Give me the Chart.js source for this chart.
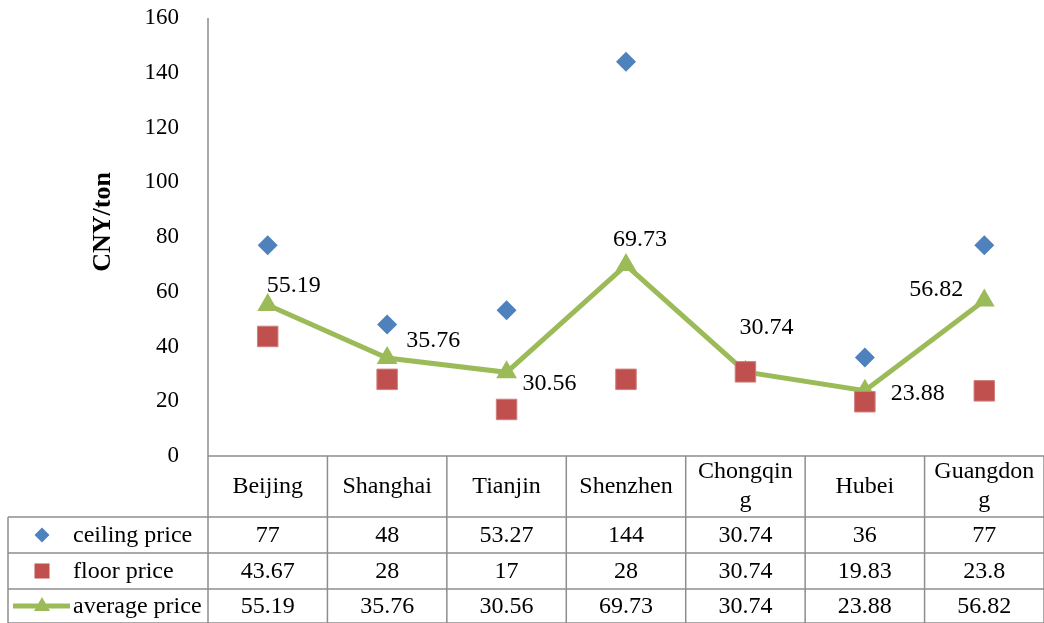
<!DOCTYPE html>
<html>
<head>
<meta charset="utf-8">
<title>Carbon price by pilot</title>
<script src="https://cdn.jsdelivr.net/npm/chart.js@4.4.1/dist/chart.umd.min.js"></script>
<style>
  html, body { margin: 0; padding: 0; background: #fff; }
  #wrap { position: relative; width: 1044px; height: 623px; }
</style>
</head>
<body>
<div id="wrap"><canvas id="priceChart" width="1044" height="623"></canvas></div>
<script>
// pilot markets and their prices (CNY/ton)
const regions = ['Beijing', 'Shanghai', 'Tianjin', 'Shenzhen', 'Chongqing', 'Hubei', 'Guangdong'];
const ceilingPrice = [77, 48, 53.27, 144, 30.74, 36, 77];
const floorPrice = [43.67, 28, 17, 28, 30.74, 19.83, 23.8];
const averagePrice = [55.19, 35.76, 30.56, 69.73, 30.74, 23.88, 56.82];
const yTicks = [0, 20, 40, 60, 80, 100, 120, 140, 160];

const FONT = '"Liberation Serif", "Times New Roman", serif';
const BLUE = '#4f81bd', RED = '#c0504d', GREEN = '#9bbb59', LINE = '#8e8e8e';

// where each average-price label sits relative to its point
const labelOffsets = [[26, -19], [46, -17], [43, 11], [14, -25], [21, -44], [53, 3], [-48, -11]];

const rows = [
  { name: 'ceiling price', values: ceilingPrice, marker: 'diamond' },
  { name: 'floor price', values: floorPrice, marker: 'square' },
  { name: 'average price', values: averagePrice, marker: 'line' }
];

// split a header into lines by character when it is wider than the cell
function wrapText(ctx, text, maxW) {
  const lines = [];
  let cur = '';
  for (const ch of text) {
    if (ctx.measureText(cur + ch).width > maxW && cur) {
      lines.push(cur);
      cur = ch;
    } else {
      cur += ch;
    }
  }
  lines.push(cur);
  return lines;
}

function drawMarker(ctx, type, x, y) {
  ctx.save();
  if (type === 'diamond') {
    ctx.fillStyle = BLUE;
    ctx.beginPath();
    ctx.moveTo(x, y - 7.5); ctx.lineTo(x + 7.5, y); ctx.lineTo(x, y + 7.5); ctx.lineTo(x - 7.5, y);
    ctx.closePath(); ctx.fill();
  } else if (type === 'square') {
    ctx.fillStyle = RED;
    ctx.fillRect(x - 7.5, y - 7.5, 15, 15);
  } else {
    ctx.strokeStyle = GREEN;
    ctx.lineWidth = 5;
    ctx.beginPath(); ctx.moveTo(x - 29, y); ctx.lineTo(x + 28, y); ctx.stroke();
    ctx.fillStyle = GREEN;
    ctx.beginPath();
    ctx.moveTo(x, y - 9); ctx.lineTo(x + 8, y + 5); ctx.lineTo(x - 8, y + 5);
    ctx.closePath(); ctx.fill();
  }
  ctx.restore();
}

// value labels on the average line
const avgLabels = {
  id: 'avgLabels',
  afterDatasetsDraw(chart) {
    const meta = chart.getDatasetMeta(2);
    const ctx = chart.ctx;
    ctx.save();
    ctx.font = '24px ' + FONT;
    ctx.fillStyle = '#000';
    ctx.textAlign = 'center';
    ctx.textBaseline = 'middle';
    meta.data.forEach((pt, i) => {
      const [dx, dy] = labelOffsets[i];
      ctx.fillText(averagePrice[i].toString(), pt.x + dx, pt.y + dy);
    });
    ctx.restore();
  }
};

// data table under the plot plus axis title
const dataTable = {
  id: 'dataTable',
  afterDraw(chart) {
    const ctx = chart.ctx;
    const xs = chart.scales.x;
    const area = chart.chartArea;
    const step = xs.getPixelForValue(1) - xs.getPixelForValue(0);
    const left = area.left, right = area.right;
    const top = area.bottom;
    const headBottom = 517;
    const rowLines = [517, 553, 589, 623];
    const legendLeft = 8;

    ctx.save();
    ctx.strokeStyle = LINE;
    ctx.lineWidth = 1.5;
    ctx.beginPath();
    // y axis line running down through the table
    ctx.moveTo(left, area.top); ctx.lineTo(left, 623);
    // header top line (x axis)
    ctx.moveTo(left, top); ctx.lineTo(right, top);
    // row separators
    rowLines.forEach(y => { ctx.moveTo(legendLeft, y); ctx.lineTo(right, y); });
    ctx.moveTo(legendLeft, headBottom); ctx.lineTo(legendLeft, 623);
    // column separators
    for (let i = 1; i <= regions.length; i++) {
      const x = xs.getPixelForValue(i) - step / 2;
      ctx.moveTo(x, top); ctx.lineTo(x, 623);
    }
    ctx.stroke();

    ctx.fillStyle = '#000';
    ctx.font = '24px ' + FONT;
    ctx.textAlign = 'center';
    ctx.textBaseline = 'middle';
    regions.forEach((name, i) => {
      const cx = xs.getPixelForValue(i);
      const lines = wrapText(ctx, name, step - 16);
      const lh = 29;
      const y0 = (top + headBottom) / 2 - (lines.length - 1) * lh / 2;
      lines.forEach((ln, k) => ctx.fillText(ln, cx, y0 + k * lh));
    });

    rows.forEach((row, r) => {
      const cy = (rowLines[r] + rowLines[r + 1]) / 2 + 1;
      row.values.forEach((v, i) => {
        ctx.fillText(v.toString(), xs.getPixelForValue(i), cy);
      });
      ctx.textAlign = 'left';
      ctx.fillText(row.name, 73, cy);
      ctx.textAlign = 'center';
      drawMarker(ctx, row.marker, 42, cy - 1);
    });

    // axis title
    ctx.fillStyle = '#000';
    ctx.font = 'bold 26px ' + FONT;
    ctx.translate(103, 222);
    ctx.rotate(-Math.PI / 2);
    ctx.fillText('CNY/ton', 0, 0);
    ctx.restore();
  }
};

new Chart(document.getElementById('priceChart'), {
  type: 'line',
  data: {
    labels: regions,
    datasets: [
      {
        label: 'ceiling price',
        data: ceilingPrice,
        showLine: false,
        pointStyle: 'rectRot',
        pointRadius: 10,
        pointBackgroundColor: BLUE,
        pointBorderColor: BLUE,
        pointBorderWidth: 0,
        order: 2
      },
      {
        label: 'floor price',
        data: floorPrice,
        showLine: false,
        pointStyle: 'rect',
        pointRadius: 14.5,
        pointBackgroundColor: RED,
        pointBorderColor: '#d0807e',
        pointBorderWidth: 1,
        order: 1
      },
      {
        label: 'average price',
        data: averagePrice,
        borderColor: GREEN,
        borderWidth: 5,
        pointStyle: 'triangle',
        pointRadius: 12,
        pointBackgroundColor: GREEN,
        pointBorderColor: GREEN,
        pointBorderWidth: 0,
        tension: 0,
        order: 3
      }
    ]
  },
  options: {
    responsive: false,
    animation: false,
    layout: { autoPadding: false, padding: { top: 18, right: 0, bottom: 167, left: 0 } },
    plugins: { legend: { display: false }, tooltip: { enabled: false } },
    scales: {
      x: { display: false, offset: true },
      y: {
        min: 0,
        max: 160,
        afterBuildTicks(scale) { scale.ticks = yTicks.map(v => ({ value: v })); },
        afterFit(scale) {
          scale.width = 208;
          scale.paddingTop = 0;
          scale.paddingBottom = 0;
        },
        grid: { display: false },
        border: { display: false },
        ticks: { padding: 21, color: '#000', font: { family: FONT, size: 23 } }
      }
    }
  },
  plugins: [avgLabels, dataTable]
});
</script>
</body>
</html>
